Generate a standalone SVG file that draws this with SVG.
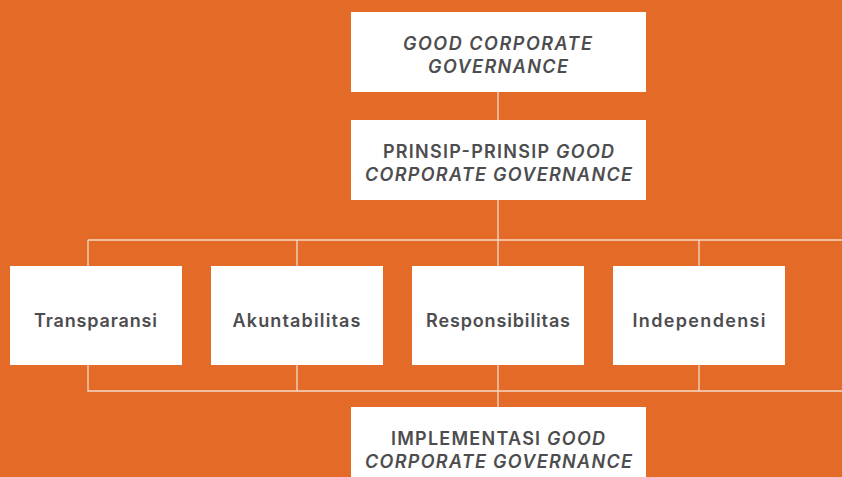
<svg xmlns="http://www.w3.org/2000/svg" width="842" height="477" viewBox="0 0 842 477">
<style>
.bx{fill:#ffffff}
.ln{stroke:#f6d9c8;stroke-width:1.3;fill:none}
.t{font-family:Inter,"Open Sans","Liberation Sans",sans-serif;font-weight:600;fill:#4d4d4f;text-anchor:middle;font-size:18px}
.i{font-style:italic}
</style>
<rect width="842" height="477" fill="#e36a27"/>
<g id="connectors">
<path class="ln" d="M498 92V120M498 200V266M88 240H842M88 240V266M297 240V266M699 240V266M88 365V391H842M297 365V391M498 365V407M699 365V391"/>
</g>
<g id="gcg">
<rect class="bx" x="351" y="12" width="295" height="80"/>
<text class="t i" x="497.5" y="50" textLength="189" lengthAdjust="spacing">GOOD CORPORATE</text>
<text class="t i" x="498" y="73" textLength="140" lengthAdjust="spacing">GOVERNANCE</text>
</g>
<g id="prinsip">
<rect class="bx" x="351" y="120" width="295" height="80"/>
<text class="t" x="498.5" y="157.5" textLength="231" lengthAdjust="spacing">PRINSIP-PRINSIP <tspan class="i">GOOD</tspan></text>
<text class="t i" x="498.5" y="181" textLength="267" lengthAdjust="spacing">CORPORATE GOVERNANCE</text>
</g>
<g id="transparansi">
<rect class="bx" x="10" y="266" width="172" height="99"/>
<text class="t" x="95.5" y="327" textLength="123" lengthAdjust="spacing">Transparansi</text>
</g>
<g id="akuntabilitas">
<rect class="bx" x="211" y="266" width="172" height="99"/>
<text class="t" x="296.5" y="327" textLength="128" lengthAdjust="spacing">Akuntabilitas</text>
</g>
<g id="responsibilitas">
<rect class="bx" x="412" y="266" width="172" height="99"/>
<text class="t" x="498" y="327" textLength="144" lengthAdjust="spacing">Responsibilitas</text>
</g>
<g id="independensi">
<rect class="bx" x="613" y="266" width="172" height="99"/>
<text class="t" x="699" y="327" textLength="133" lengthAdjust="spacing">Independensi</text>
</g>
<g id="implementasi">
<rect class="bx" x="351" y="407" width="295" height="80"/>
<text class="t" x="498" y="445" textLength="214" lengthAdjust="spacing">IMPLEMENTASI <tspan class="i">GOOD</tspan></text>
<text class="t i" x="498.5" y="467.5" textLength="267" lengthAdjust="spacing">CORPORATE GOVERNANCE</text>
</g>
</svg>
